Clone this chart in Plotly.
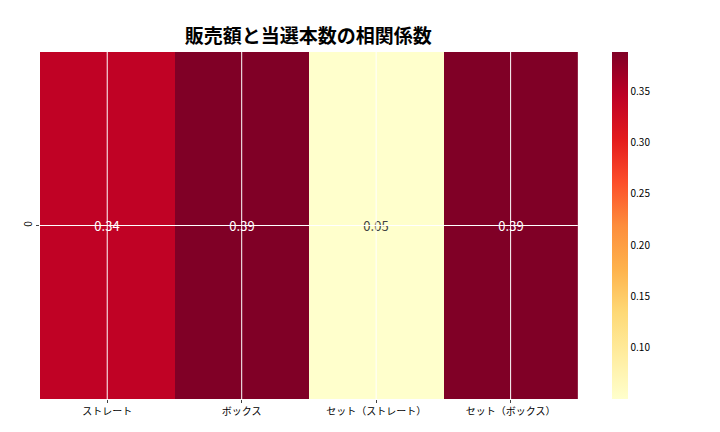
import plotly.graph_objects as go

categories = ["ストレート", "ボックス", "セット（ストレート）", "セット（ボックス）"]
rows = ["0"]
corr = [[0.342, 0.388, 0.050, 0.388]]
labels = [["0.34", "0.39", "0.05", "0.39"]]

font = "Noto Sans CJK JP"

fig = go.Figure(go.Heatmap(
    z=corr, x=categories, y=rows,
    colorscale="YlOrRd", zmin=0.050, zmax=0.388,
    text=labels, texttemplate="%{text}",
    textfont=dict(size=13),
    colorbar=dict(x=0.883, xanchor="left", xpad=0, ypad=0, thickness=16, len=1, y=0.5,
                  outlinewidth=0, tickvals=[0.10, 0.15, 0.20, 0.25, 0.30, 0.35],
                  ticktext=["0.10", "0.15", "0.20", "0.25", "0.30", "0.35"],
                  tickfont=dict(size=10)),
))

# white grid lines drawn over the cells
for c in categories:
    fig.add_shape(type="line", xref="x", yref="paper", x0=c, x1=c, y0=0, y1=1,
                  line=dict(color="white", width=1), layer="above")
fig.add_shape(type="line", xref="paper", yref="y", x0=0, x1=0.830, y0="0", y1="0",
              line=dict(color="white", width=1), layer="above")

fig.update_layout(
    width=720, height=432,
    font=dict(family=font, color="black"),
    title=dict(text="<b>販売額と当選本数の相関係数</b>", x=0.417, xanchor="center",
               y=0.95, font=dict(size=19)),
    margin=dict(l=32, r=40, t=44, b=41),
    plot_bgcolor="white", paper_bgcolor="white",
    xaxis=dict(showgrid=False, domain=[0, 0.830], tickfont=dict(size=10),
               ticks="outside", ticklen=3),
    yaxis=dict(showgrid=False, tickangle=-90, tickfont=dict(size=10),
               ticks="outside", ticklen=3),
)

fig.write_html("out.html")
